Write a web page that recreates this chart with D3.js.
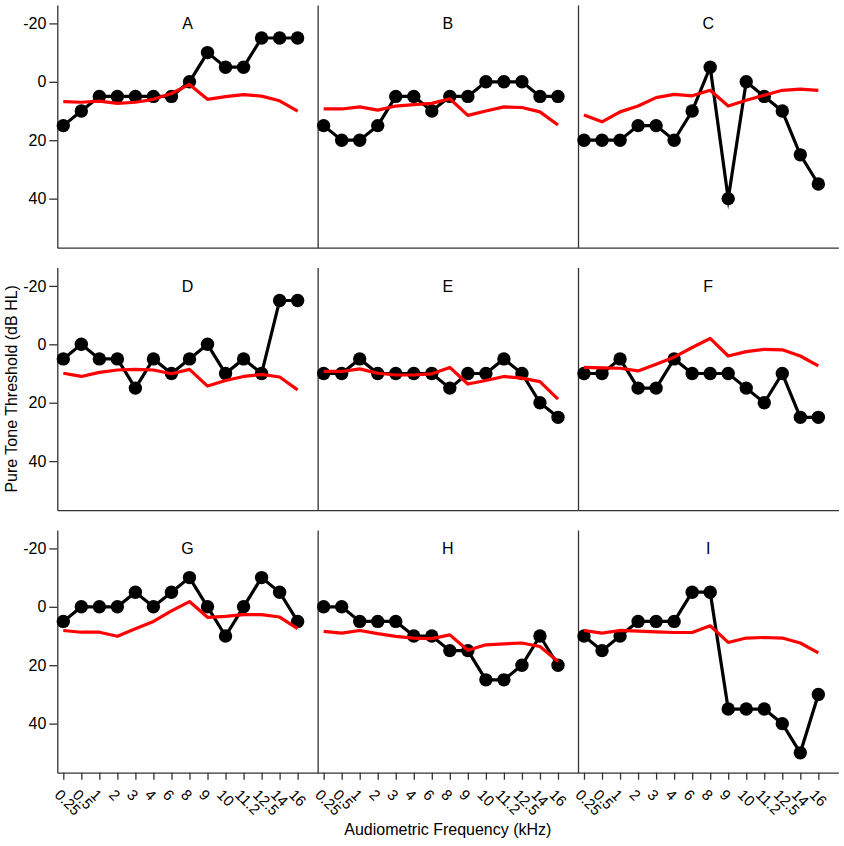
<!DOCTYPE html>
<html>
<head>
<meta charset="utf-8">
<script src="https://cdn.jsdelivr.net/npm/d3@7"></script>
<style>
  body { margin: 0; background: #fff; }
  svg { display: block; font-family: "Liberation Sans", Arial, sans-serif; }
</style>
</head>
<body>
<div id="chart"></div>
<script>
// audiometric frequencies (kHz), evenly spaced on the x axis
const freqLabels = ["0.25", "0.5", "1", "2", "3", "4", "6", "8", "9", "10", "11.2", "12.5", "14", "16"];
const panelLabels = ["A", "B", "C", "D", "E", "F", "G", "H", "I"];
const yTicks = [-20, 0, 20, 40];

// black: individual thresholds (dB HL)
const subjectA = [15, 10, 5, 5, 5, 5, 5, 0, -10, -5, -5, -15, -15, -15];
const subjectB = [15, 20, 20, 15, 5, 5, 10, 5, 5, 0, 0, 0, 5, 5];
const subjectC = [20, 20, 20, 15, 15, 20, 10, -5, 40, 0, 5, 10, 25, 35];
const subjectD = [5, 0, 5, 5, 15, 5, 10, 5, 0, 10, 5, 10, -15, -15];
const subjectE = [10, 10, 5, 10, 10, 10, 10, 15, 10, 10, 5, 10, 20, 25];
const subjectF = [10, 10, 5, 15, 15, 5, 10, 10, 10, 15, 20, 10, 25, 25];
const subjectG = [5, 0, 0, 0, -5, 0, -5, -10, 0, 10, 0, -10, -5, 5];
const subjectH = [0, 0, 5, 5, 5, 10, 10, 15, 15, 25, 25, 20, 10, 20];
const subjectI = [10, 15, 10, 5, 5, 5, -5, -5, 35, 35, 35, 40, 50, 30];

// red: comparison curve (dB HL)
const meanA = [6.8, 7, 6.6, 7.4, 7, 6, 4, 0.9, 6, 5.1, 4.4, 4.9, 6.5, 10];
const meanB = [9.3, 9.3, 8.6, 9.7, 8.3, 7.8, 7.4, 5.8, 11.5, 10, 8.6, 8.8, 10.3, 14.8];
const meanC = [11.4, 13.7, 10.3, 8.3, 5.4, 4.3, 4.8, 2.9, 8.3, 6.3, 4.6, 2.9, 2.5, 2.9];
const meanD = [9.9, 11, 9.6, 8.8, 8.6, 8.8, 10.1, 8.6, 14.3, 12.4, 11, 10.3, 11.2, 15.6];
const meanE = [9.3, 9.3, 8.4, 9.9, 10.5, 10.5, 10.1, 7.9, 13.6, 12.4, 11, 11.6, 12.8, 18.8];
const meanF = [7.9, 8.1, 8.2, 9.1, 6.8, 4.4, 1.1, -2, 4, 2.5, 1.7, 1.9, 4, 7.4];
const meanG = [8.1, 8.7, 8.7, 10.1, 7.5, 5, 1.4, -1.8, 3.6, 3.3, 2.7, 2.7, 3.5, 7.5];
const meanH = [8.4, 9, 8.1, 9.2, 10.1, 10.7, 10.9, 9.6, 14.9, 13, 12.7, 12.4, 13.6, 18.7];
const meanI = [8.1, 9, 8.1, 8.3, 8.6, 8.8, 8.8, 6.5, 12.2, 10.7, 10.5, 10.7, 12.4, 15.8];

const subjectSeries = [subjectA, subjectB, subjectC, subjectD, subjectE, subjectF, subjectG, subjectH, subjectI];
const meanSeries = [meanA, meanB, meanC, meanD, meanE, meanF, meanG, meanH, meanI];

const width = 844;
const height = 846;
const left0 = 57.3, top0 = 5;
const pw = 260.35, ph = 242.7, rowStep = 262.5;
const font = "Liberation Sans, Arial, sans-serif";

const svg = d3.select("#chart").append("svg")
  .attr("width", width)
  .attr("height", height);

svg.append("rect").attr("width", width).attr("height", height).attr("fill", "#fff");

const x = d3.scaleLinear().domain([-0.333, 14.11]).range([0, pw]);
const y = d3.scaleLinear().domain([-26.3, 56.8]).range([0, ph]);

const line = d3.line()
  .x((d, i) => x(i))
  .y(d => y(d));

panelLabels.forEach((label, p) => {
  const row = Math.floor(p / 3);
  const col = p % 3;
  const g = svg.append("g")
    .attr("transform", `translate(${left0 + col * pw}, ${top0 + row * rowStep})`);

  // left axis (plain hyphen for negatives, like the original)
  const yAxis = d3.axisLeft(y)
    .tickValues(col === 0 ? yTicks : [])
    .tickFormat(d => String(d))
    .tickSize(8)
    .tickPadding(3)
    .tickSizeOuter(0);
  const ya = g.append("g").call(yAxis);
  ya.selectAll("text").attr("font-size", 16).attr("fill", "#000")
    .style("font-family", font);

  // bottom axis
  const xAxis = d3.axisBottom(x)
    .tickValues(row === 2 ? d3.range(freqLabels.length) : [])
    .tickFormat(i => freqLabels[i])
    .tickSize(7)
    .tickSizeOuter(0);
  const xa = g.append("g").attr("transform", `translate(0, ${ph})`).call(xAxis);
  xa.selectAll("text")
    .attr("x", 0).attr("y", 0).attr("dy", 0)
    .attr("text-anchor", "start")
    .attr("transform", "translate(-10, 23) rotate(45)")
    .attr("font-size", 15).attr("fill", "#000")
    .style("font-family", font);

  [ya, xa].forEach(a => {
    a.select(".domain").attr("stroke", "#333").attr("stroke-width", 1.3);
    a.selectAll(".tick line").attr("stroke", "#333").attr("stroke-width", 1.3);
  });

  // panel letter
  g.append("text")
    .attr("x", pw / 2)
    .attr("y", 24)
    .attr("text-anchor", "middle")
    .attr("font-size", 16)
    .text(label);

  // subject thresholds
  g.append("path")
    .datum(subjectSeries[p])
    .attr("d", line)
    .attr("fill", "none")
    .attr("stroke", "#000")
    .attr("stroke-width", 3.2)
    .attr("stroke-linejoin", "miter")
    .attr("stroke-miterlimit", 10);

  g.selectAll("circle")
    .data(subjectSeries[p])
    .enter()
    .append("circle")
    .attr("cx", (d, i) => x(i))
    .attr("cy", d => y(d))
    .attr("r", 6.7)
    .attr("fill", "#000");

  // red comparison curve
  g.append("path")
    .datum(meanSeries[p])
    .attr("d", line)
    .attr("fill", "none")
    .attr("stroke", "#ff0000")
    .attr("stroke-width", 3.2)
    .attr("stroke-linejoin", "round");
});

// axis titles
svg.append("text")
  .attr("x", left0 + pw * 1.5)
  .attr("y", 835)
  .attr("text-anchor", "middle")
  .attr("font-size", 16)
  .text("Audiometric Frequency (kHz)");

svg.append("text")
  .attr("transform", `translate(17, ${top0 + rowStep + ph / 2}) rotate(-90)`)
  .attr("text-anchor", "middle")
  .attr("font-size", 16)
  .text("Pure Tone Threshold (dB HL)");
</script>
</body>
</html>
